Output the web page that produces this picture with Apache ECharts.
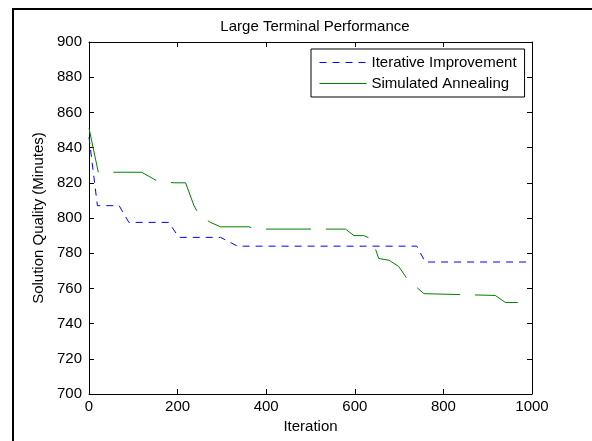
<!DOCTYPE html>
<html>
<head>
<meta charset="utf-8">
<script src="https://cdn.jsdelivr.net/npm/echarts@6/dist/echarts.min.js"></script>
<style>
  html, body { margin: 0; padding: 0; background: #fff; }
  #main { width: 592px; height: 441px; }
</style>
</head>
<body>
<div id="main"></div>
<script>
// values
const iterImprove = [0, 19, 68, 90, 180, 203, 297, 335, 740, 759, 1000];
const valImprove = [846, 807, 807, 797.5, 797.5, 789, 789, 784, 784, 775, 775];

const iterAnneal = [0, 21, 119, 154, 192, 218, 237, 248, 274, 297, 361, 376, 579, 598, 620, 639, 654, 677, 699, 722, 729, 756, 759, 917, 940, 1000];
const valAnneal = [851, 826, 826, 821, 820, 820, 807, 802, 797.5, 795, 795, 793.7, 793.7, 790, 790, 788, 777, 776, 772.5, 764, 763, 757, 756, 756, 752, 752];

const xTicks = [0, 200, 400, 600, 800, 1000];
const yTicks = [700, 720, 740, 760, 780, 800, 820, 840, 860, 880, 900];

const pairs = (xs, ys) => xs.map((x, i) => [x, ys[i]]);

const font = 'Liberation Sans, Arial, Helvetica, sans-serif';
const chart = echarts.init(document.getElementById('main'));

const axisCommon = {
  type: 'value',
  axisLine: { show: true, onZero: false, lineStyle: { color: '#000', width: 1 } },
  axisTick: { show: true, inside: true, length: 5, lineStyle: { color: '#000' } },
  splitLine: { show: false },
};

chart.setOption({
  backgroundColor: '#fff',
  animation: false,
  title: {
    text: 'Large Terminal Performance',
    left: 310, top: 14, textAlign: 'center',
    textStyle: { fontFamily: font, fontSize: 15, fontWeight: 'normal', color: '#000' }
  },
  legend: {
    left: 311, top: 49,
    orient: 'vertical',
    backgroundColor: '#fff',
    borderColor: '#000', borderWidth: 1, borderRadius: 0,
    padding: [6, 8, 6, 8],
    itemWidth: 47, itemHeight: 14, itemGap: 6,
    itemStyle: { opacity: 0 },
    lineStyle: { width: 1 },
    textStyle: { fontFamily: font, fontSize: 15, color: '#000' },
    data: [
      { name: 'Iterative Improvement' },
      { name: 'Simulated Annealing', lineStyle: { type: 'solid', width: 1 } }
    ]
  },
  grid: { left: 89, right: 60, top: 42, bottom: 47 },
  xAxis: [
    Object.assign({}, axisCommon, {
      position: 'bottom', min: xTicks[0], max: xTicks[xTicks.length - 1], interval: 200,
      name: 'Iteration', nameLocation: 'middle', nameGap: 24,
      nameTextStyle: { fontFamily: font, fontSize: 15, color: '#000' },
      axisLabel: { fontFamily: font, fontSize: 15, color: '#000', margin: 5, formatter: v => String(v) }
    }),
    Object.assign({}, axisCommon, {
      position: 'top', min: 0, max: 1000, interval: 200,
      axisLabel: { show: false }
    })
  ],
  yAxis: [
    Object.assign({}, axisCommon, {
      position: 'left', min: yTicks[0], max: yTicks[yTicks.length - 1], interval: 20,
      name: 'Solution Quality (Minutes)', nameLocation: 'middle', nameGap: 40,
      nameTextStyle: { fontFamily: font, fontSize: 15, color: '#000' },
      axisLabel: { fontFamily: font, fontSize: 15, color: '#000', margin: 7 }
    }),
    Object.assign({}, axisCommon, {
      position: 'right', min: 700, max: 900, interval: 20,
      axisLabel: { show: false }
    })
  ],
  graphic: [
    { type: 'line', shape: { x1: 13, y1: 9, x2: 13, y2: 441 }, style: { stroke: '#000', lineWidth: 2 } },
    { type: 'line', shape: { x1: 12, y1: 9, x2: 592, y2: 9 }, style: { stroke: '#000', lineWidth: 2 } }
  ],
  series: [
    {
      name: 'Iterative Improvement',
      type: 'line',
      symbol: 'none',
      color: '#0000ff',
      lineStyle: { color: '#0000ff', width: 1, type: [7, 6] },
      data: pairs(iterImprove, valImprove)
    },
    {
      name: 'Simulated Annealing',
      type: 'line',
      symbol: 'none',
      color: '#008000',
      lineStyle: { color: '#008000', width: 1, type: [45, 15] },
      data: pairs(iterAnneal, valAnneal)
    }
  ]
});
</script>
</body>
</html>
